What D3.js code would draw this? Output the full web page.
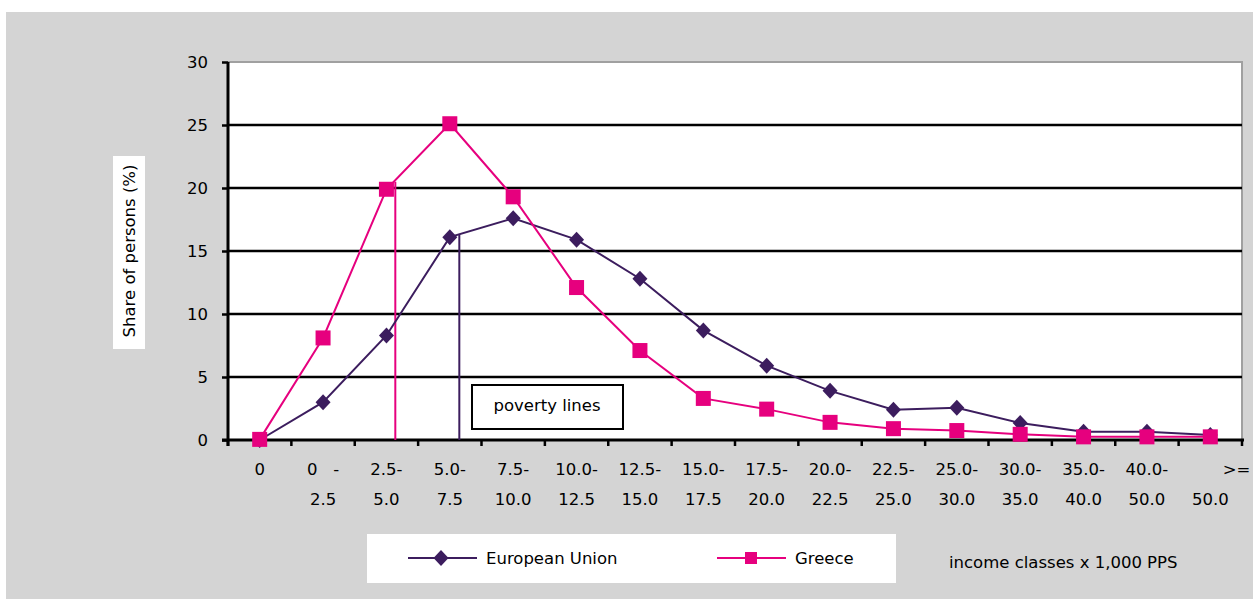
<!DOCTYPE html>
<html>
<head>
<meta charset="utf-8">
<script src="https://cdn.jsdelivr.net/npm/d3@7"></script>
<style>
  body { margin: 0; background: #fff; }
  text { font-family: "DejaVu Sans", sans-serif; font-size: 16.5px; fill: #000; }
</style>
</head>
<body>
<div id="chart"></div>
<script>
const NB = "\u00a0";
const categories = ["0", "0-2.5", "2.5-5.0", "5.0-7.5", "7.5-10.0", "10.0-12.5", "12.5-15.0",
  "15.0-17.5", "17.5-20.0", "20.0-22.5", "22.5-25.0", "25.0-30.0", "30.0-35.0",
  "35.0-40.0", "40.0-50.0", ">=50.0"];
const tickLines = [
  ["0", ""], ["0" + NB + NB + NB + "-", "2.5"], ["2.5-", "5.0"], ["5.0-", "7.5"], ["7.5-", "10.0"],
  ["10.0-", "12.5"], ["12.5-", "15.0"], ["15.0-", "17.5"], ["17.5-", "20.0"], ["20.0-", "22.5"],
  ["22.5-", "25.0"], ["25.0-", "30.0"], ["30.0-", "35.0"], ["35.0-", "40.0"], ["40.0-", "50.0"],
  [NB.repeat(10) + ">=", "50.0"]
];
const euValues = [0, 3.0, 8.3, 16.1, 17.6, 15.9, 12.8, 8.7, 5.9, 3.9, 2.4, 2.55, 1.35, 0.65, 0.65, 0.4];
const greeceValues = [0.05, 8.1, 19.9, 25.1, 19.3, 12.1, 7.1, 3.3, 2.45, 1.4, 0.9, 0.75, 0.45, 0.25, 0.25, 0.25];
const yTicks = [0, 5, 10, 15, 20, 25, 30];
// poverty lines: position in class units along the axis, height in %
const povertyGreece = { at: 2.64, top: 20.5 };
const povertyEU = { at: 3.65, top: 16.3 };

const purple = "#3c1d5e";
const pink = "#e6007e";

const width = 1253, height = 599;
const svg = d3.select("#chart").append("svg")
  .attr("width", width)
  .attr("height", height);

svg.append("rect")
  .attr("x", 6).attr("y", 12)
  .attr("width", width - 6).attr("height", height - 12)
  .attr("fill", "#d4d4d4");

const mLeft = 228, mRight = 1242, mTop = 62, mBottom = 440;

const x = d3.scaleBand().domain(categories).range([mLeft, mRight]);
const xPos = d3.scaleLinear().domain([0, categories.length]).range([mLeft, mRight]);
const y = d3.scaleLinear().domain([0, 30]).range([mBottom, mTop]);

svg.append("rect")
  .attr("x", mLeft).attr("y", mTop)
  .attr("width", mRight - mLeft).attr("height", mBottom - mTop)
  .attr("fill", "#fff");

// frame top/right in grey
svg.append("path")
  .attr("d", `M${mLeft},${mTop}H${mRight}V${mBottom}`)
  .attr("fill", "none")
  .attr("stroke", "#a0a0a0")
  .attr("stroke-width", 2);

svg.append("g").selectAll("line")
  .data(yTicks.filter(d => d > 0 && d < 30))
  .enter().append("line")
  .attr("x1", mLeft).attr("x2", mRight)
  .attr("y1", d => y(d)).attr("y2", d => y(d))
  .attr("stroke", "#000")
  .attr("stroke-width", 2.4);

// y axis
const yAxis = svg.append("g")
  .attr("transform", `translate(${mLeft},0)`)
  .call(d3.axisLeft(y).tickValues(yTicks).tickSize(6).tickPadding(14));
yAxis.select(".domain").attr("stroke-width", 3).attr("d", `M0,${mTop}V${mBottom + 6}`);
yAxis.selectAll(".tick line").attr("stroke-width", 2.5);
yAxis.selectAll(".tick text").attr("font-size", 16.5).attr("font-family", "DejaVu Sans").attr("dy", "0.35em");

// x axis
svg.append("line")
  .attr("x1", mLeft - 6).attr("x2", mRight + 2)
  .attr("y1", mBottom).attr("y2", mBottom)
  .attr("stroke", "#000").attr("stroke-width", 3);
svg.append("g").selectAll("line")
  .data(d3.range(categories.length + 1))
  .enter().append("line")
  .attr("x1", d => xPos(d)).attr("x2", d => xPos(d))
  .attr("y1", mBottom).attr("y2", mBottom + 6)
  .attr("stroke", "#000").attr("stroke-width", 2.5);

const xLabels = svg.append("g").selectAll("text")
  .data(categories)
  .enter().append("text")
  .attr("text-anchor", "middle");
xLabels.append("tspan")
  .attr("x", d => x(d) + x.bandwidth() / 2)
  .attr("y", 475)
  .text((d, i) => tickLines[i][0]);
xLabels.append("tspan")
  .attr("x", d => x(d) + x.bandwidth() / 2)
  .attr("y", 505)
  .text((d, i) => tickLines[i][1]);

// y axis title
svg.append("rect")
  .attr("x", 113).attr("y", 156)
  .attr("width", 32).attr("height", 193)
  .attr("fill", "#fff");
svg.append("text")
  .attr("transform", "translate(135,251) rotate(-90)")
  .attr("text-anchor", "middle")
  .text("Share of persons (%)");

// poverty lines
svg.append("line")
  .attr("x1", xPos(povertyGreece.at)).attr("x2", xPos(povertyGreece.at))
  .attr("y1", y(0)).attr("y2", y(povertyGreece.top))
  .attr("stroke", pink).attr("stroke-width", 2);
svg.append("line")
  .attr("x1", xPos(povertyEU.at)).attr("x2", xPos(povertyEU.at))
  .attr("y1", y(0)).attr("y2", y(povertyEU.top))
  .attr("stroke", purple).attr("stroke-width", 2);

svg.append("rect")
  .attr("x", 472).attr("y", 385)
  .attr("width", 151).attr("height", 44)
  .attr("fill", "#fff")
  .attr("stroke", "#000")
  .attr("stroke-width", 2);
svg.append("text")
  .attr("x", 547).attr("y", 411)
  .attr("text-anchor", "middle")
  .text("poverty lines");

const line = d3.line()
  .x((d, i) => x(categories[i]) + x.bandwidth() / 2)
  .y(d => y(d));

const diamond = "M0,-8L7.5,0L0,8L-7.5,0Z";

svg.append("path")
  .attr("d", line(euValues))
  .attr("fill", "none")
  .attr("stroke", purple)
  .attr("stroke-width", 2);
svg.append("g").selectAll("path")
  .data(euValues)
  .enter().append("path")
  .attr("transform", (d, i) => `translate(${x(categories[i]) + x.bandwidth() / 2},${y(d)})`)
  .attr("d", diamond)
  .attr("fill", purple);

svg.append("path")
  .attr("d", line(greeceValues))
  .attr("fill", "none")
  .attr("stroke", pink)
  .attr("stroke-width", 2);
svg.append("g").selectAll("rect")
  .data(greeceValues)
  .enter().append("rect")
  .attr("x", (d, i) => x(categories[i]) + x.bandwidth() / 2 - 7.5)
  .attr("y", d => y(d) - 7.5)
  .attr("width", 15).attr("height", 15)
  .attr("fill", pink);

// legend
svg.append("rect")
  .attr("x", 367).attr("y", 534)
  .attr("width", 529).attr("height", 49)
  .attr("fill", "#fff");
const legend = svg.append("g");
legend.append("line")
  .attr("x1", 408).attr("x2", 477).attr("y1", 558).attr("y2", 558)
  .attr("stroke", purple).attr("stroke-width", 2);
legend.append("path")
  .attr("transform", "translate(441,558)")
  .attr("d", diamond)
  .attr("fill", purple);
legend.append("text").attr("x", 486).attr("y", 564).text("European Union");
legend.append("line")
  .attr("x1", 717).attr("x2", 786).attr("y1", 558).attr("y2", 558)
  .attr("stroke", pink).attr("stroke-width", 2);
legend.append("rect")
  .attr("x", 745).attr("y", 552).attr("width", 12).attr("height", 12)
  .attr("fill", pink);
legend.append("text").attr("x", 795).attr("y", 564).text("Greece");

svg.append("text")
  .attr("x", 949).attr("y", 568)
  .text("income classes x 1,000 PPS");
</script>
</body>
</html>
